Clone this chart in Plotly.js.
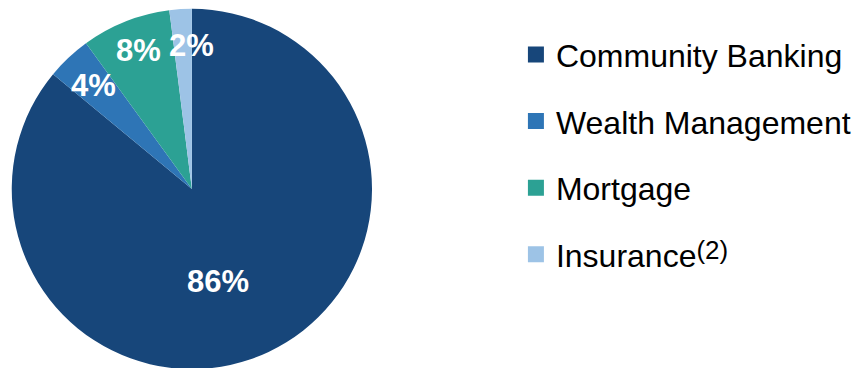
<!DOCTYPE html>
<html><head><meta charset="utf-8">
<script src="https://cdn.plot.ly/plotly-3.0.1.min.js"></script>
<style>html,body{margin:0;padding:0;overflow:hidden;width:856px;height:368px;background:#fff}</style>
</head><body><div id="chart"></div>
<script>
// ---- data ----
const categories = ["Community Banking", "Wealth Management", "Mortgage", "Insurance"];
const legendLabels = ["Community Banking", "Wealth Management", "Mortgage",
  "Insurance<span style='font-size:26px;baseline-shift:8px'>(2)</span>"];
const shares = [86, 4, 8, 2];
const pctLabels = ["86%", "4%", "8%", "2%"];

// ---- styles / layout config ----
const colors = ["#17467a", "#2e75b6", "#2ca194", "#9dc3e6"];
const labelRadius = [0.53, 0.79, 0.82, 0.79];
const labelAngleShift = [9, -1, 0, 3.6];
const labelNudgeX = 3;
const W = 856, H = 378;
const cx = 193, cy = 189, R = 182;
const domainNudge = 3, domainPad = 2;

const total = shares.reduce((a, b) => a + b, 0);
let cum = 0;
const annotations = shares.map((v, i) => {
  const mid = (cum + v / 2) / total * 360 + labelAngleShift[i];
  cum += v;
  const a = mid * Math.PI / 180;
  const r = labelRadius[i] * R;
  const px = cx + Math.sin(a) * r + labelNudgeX;
  const py = cy - Math.cos(a) * r;
  return {
    x: px / W, y: 1 - py / H, xref: "paper", yref: "paper",
    text: pctLabels[i], showarrow: false, xanchor: "center", yanchor: "middle",
    font: {family: "Liberation Sans, Arial, sans-serif", size: 31, color: "#ffffff", weight: "bold"}
  };
});

const pie = {
  type: "pie", values: shares, labels: categories, sort: false,
  direction: "clockwise", rotation: 0, textinfo: "none", showlegend: false,
  marker: {colors: colors, line: {width: 0}},
  domain: {x: [(cx - R - domainPad + domainNudge) / W, (cx + R + domainPad + domainNudge) / W], y: [0, 1]},
  hoverinfo: "label+percent"
};

const legendTraces = categories.map((c, i) => ({
  type: "scatter", x: [null], y: [null], mode: "markers", name: legendLabels[i],
  legendgroup: "g" + i, marker: {symbol: "square", size: 16, color: colors[i]},
  hoverinfo: "skip"
}));

const layout = {
  width: W, height: H,
  margin: {l: 0, r: 0, t: 0, b: 0},
  paper_bgcolor: "#ffffff", plot_bgcolor: "#ffffff",
  xaxis: {visible: false}, yaxis: {visible: false},
  showlegend: true,
  legend: {
    x: 527 / W, xanchor: "left", y: 0.928, yanchor: "top",
    font: {family: "Liberation Sans, Arial, sans-serif", size: 32, color: "#000000"},
    tracegroupgap: 22, itemwidth: 30, bgcolor: "rgba(0,0,0,0)", traceorder: "grouped"
  },
  annotations: annotations
};

Plotly.newPlot("chart", [pie].concat(legendTraces), layout, {displayModeBar: false, staticPlot: true});
</script>
</body></html>
